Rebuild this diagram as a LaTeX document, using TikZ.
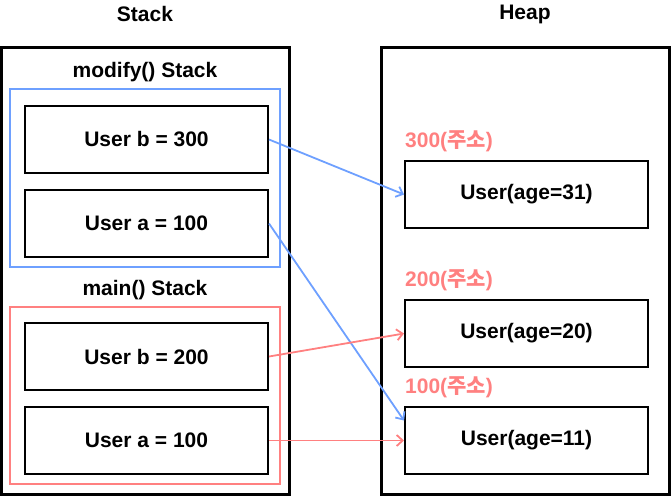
\documentclass[tikz,border=0pt]{standalone}
\usepackage{fontspec}
\setmainfont{Liberation Sans}
\newfontfamily\krfont{Noto Sans CJK KR}
\usepackage{tikz}
\usetikzlibrary{arrows.meta}
\usetikzlibrary{positioning}

\definecolor{stackblue}{RGB}{110,160,255}
\definecolor{stackred}{RGB}{255,128,128}

\begin{document}
\begin{tikzpicture}[x=1pt, y=-1pt, >={Straight Barb[length=6pt, width=11pt]}, font=\bfseries\fontsize{21}{24}\selectfont]
	\tikzstyle{frame}=[rectangle, draw=black, line width=3pt, minimum width=288pt, minimum height=447pt]
	\tikzstyle{group}=[rectangle, line width=2pt, minimum width=270pt]
	\tikzstyle{var}=[rectangle, draw=black, line width=2pt, minimum width=243pt, minimum height=67pt]
	\tikzstyle{title}=[inner sep=0pt]
	\tikzstyle{addr}=[inner sep=0pt, anchor=west, text=stackred]
	\tikzstyle{connect}=[->, line width=1.8pt]
	
	\useasboundingbox (0,0) rectangle (671,496);
	
	% stack side
	\node[frame] (stack) at (145, 270.5) {};
	\node[title] (stacktitle) at (145, 14) {Stack};
	\node[group, draw=stackblue, minimum height=178pt] (modify) at (145, 178) {};
	\node[group, draw=stackred, minimum height=177pt] (main) at (145, 395.5) {};
	\node[title] (modifytitle) at (145, 72) {modify() Stack};
	\node[title] (maintitle) at (145, 290) {main() Stack};
	
	\node[var] (mb) at (146.5, 139.5) {User b = 300};
	\node[var, node distance=15pt] (ma) [below=of mb] {User a = 100};
	\node[var] (nb) at (146.5, 356.5) {User b = 200};
	\node[var, node distance=15pt] (na) [below=of nb] {User a = 100};
	
	% heap side
	\node[frame] (heap) at (525, 270.5) {};
	\node[title] (heaptitle) at (525, 14) {Heap};
	
	\node[var] (u31) at (526.5, 194.5) {User(age=31)};
	\node[var] (u20) at (526.5, 333.5) {User(age=20)};
	\node[var] (u11) at (526.5, 440.5) {User(age=11)};
	
	\node[addr] (a300) at (405, 141) {300({\krfont 주소})};
	\node[addr] (a200) at (405, 280) {200({\krfont 주소})};
	\node[addr] (a100) at (405, 387) {100({\krfont 주소})};
	
	\coordinate (u11top) at ([yshift=20pt]u11.west);
	
	\path (mb.east) edge [connect, stackblue] (u31.west)
	(ma.east) edge [connect, stackblue] (u11top)
	(nb.east) edge [connect, stackred] (u20.west)
	(na.east) edge [connect, stackred] (u11.west);
	
\end{tikzpicture}
\end{document}
